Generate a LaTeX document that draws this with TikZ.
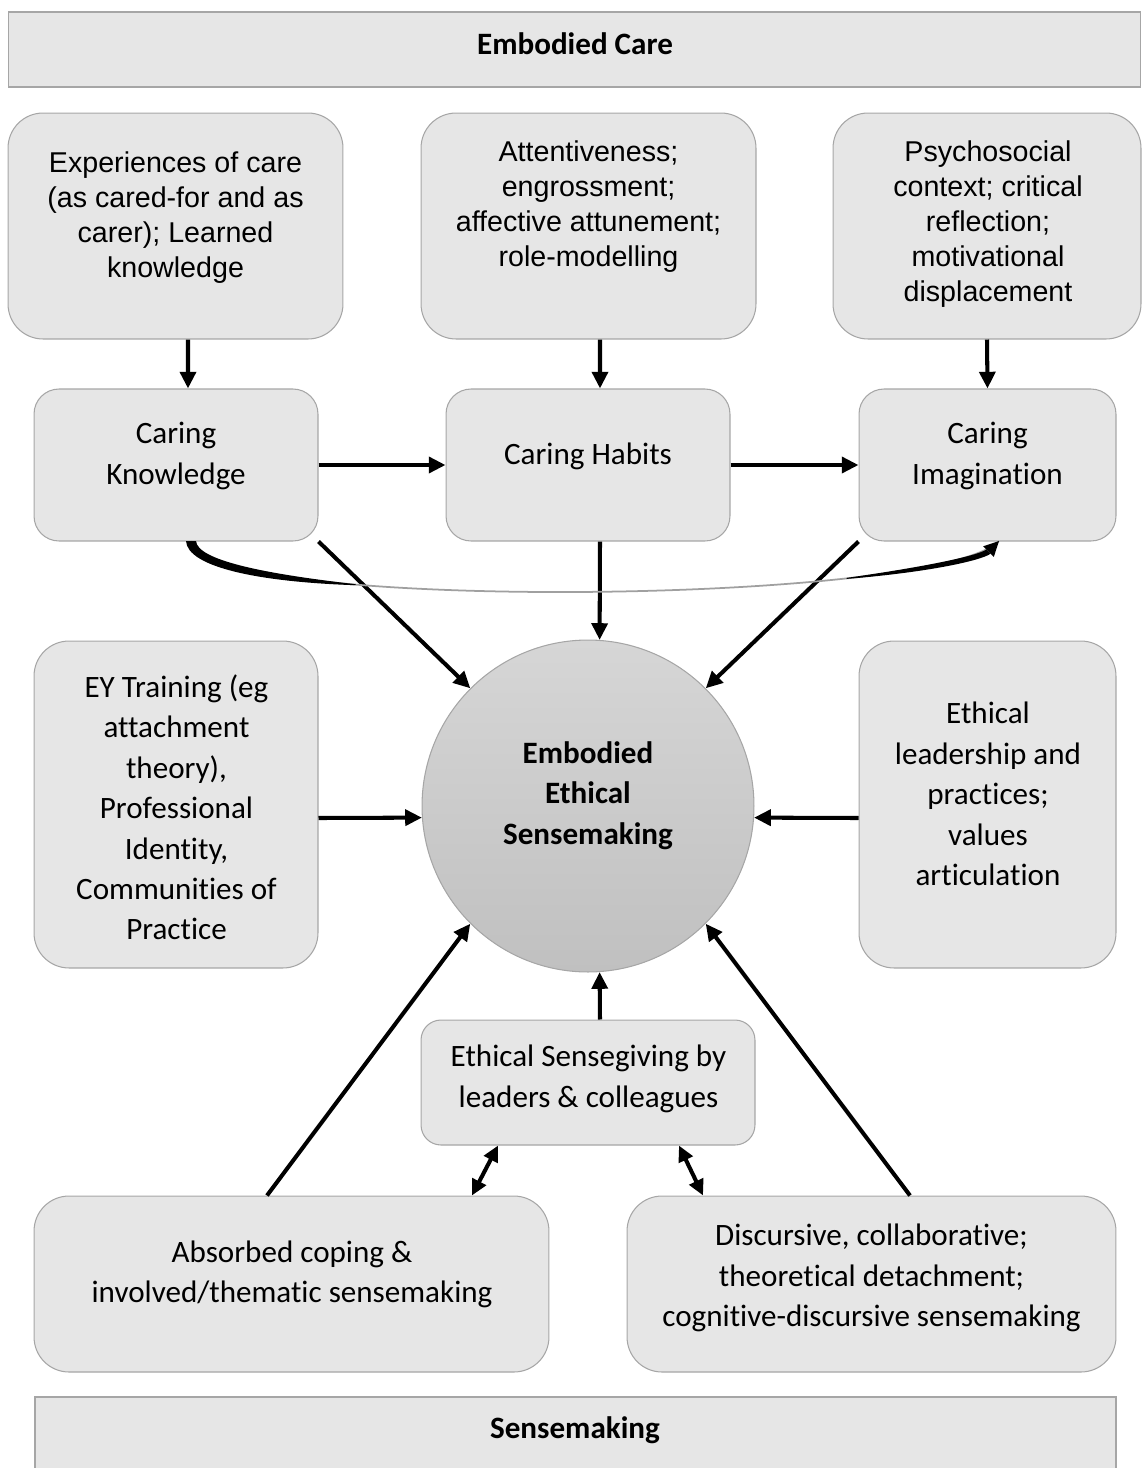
\documentclass[tikz,border=0pt]{standalone}
\usepackage{fontspec}
\setmainfont{Carlito}[Ligatures={NoCommon}]
\newfontfamily\arialf{Liberation Sans}
\usetikzlibrary{arrows.meta,shapes.geometric}
\definecolor{boxgray}{HTML}{E6E6E6}
\definecolor{edgegray}{HTML}{A6A6A6}
\definecolor{circtop}{HTML}{D6D6D6}
\definecolor{circbot}{HTML}{C0C0C0}
\definecolor{curvegray}{HTML}{A0A0A0}
\begin{document}
\begin{tikzpicture}[x=0.02cm,y=-0.02cm,
  rbox/.style={draw=edgegray, fill=boxgray, line width=0.6pt, inner sep=0pt},
  cal/.style={align=center, font=\fontsize{17.7}{23}\selectfont, inner sep=0pt},
  calb/.style={align=center, font=\bfseries\fontsize{17.7}{23}\selectfont, inner sep=0pt},
  ari/.style={align=center, font=\arialf\fontsize{16.3}{19.9}\selectfont, inner sep=0pt},
  arr/.style={-{Triangle[length=9.5pt,width=9pt]}, line width=2.3pt},
  dbl/.style={{Triangle[length=9pt,width=8.5pt]}-{Triangle[length=9pt,width=8.5pt]}, line width=2.3pt}]
\useasboundingbox (0,0) rectangle (1142,1468);

% top bar
\node[rbox, minimum width=22.66cm, minimum height=1.5cm] (topbar) at (574.5,49.5) {};
\node[calb] (toptxt) at (575,44) {Embodied Care};

% row 1
\node[rbox, rounded corners=0.7cm, minimum width=6.7cm, minimum height=4.52cm] (expA) at (175.5,226) {};
\node[ari] (expAt) at (175.5,218) {Experiences of care\\(as cared-for and as\\carer); Learned\\knowledge};
\node[rbox, rounded corners=0.7cm, minimum width=6.7cm, minimum height=4.52cm] (expB) at (588.5,226) {};
\node[ari] (expBt) at (588.5,207) {Attentiveness;\\engrossment;\\affective attunement;\\role-modelling};
\node[rbox, rounded corners=0.7cm, minimum width=6.16cm, minimum height=4.52cm] (expC) at (987,226) {};
\node[ari] (expCt) at (988,224.5) {Psychosocial\\context; critical\\reflection;\\motivational\\displacement};

% row 2
\node[rbox, rounded corners=0.5cm, minimum width=5.68cm, minimum height=3.04cm] (ck) at (176,465) {};
\node[cal] (ckt) at (176,456) {Caring\\Knowledge};
\node[rbox, rounded corners=0.5cm, minimum width=5.68cm, minimum height=3.04cm] (ch) at (588,465) {};
\node[cal] (cht) at (588,456) {Caring Habits};
\node[rbox, rounded corners=0.5cm, minimum width=5.14cm, minimum height=3.04cm] (ci) at (987.5,465) {};
\node[cal] (cit) at (987.5,456) {Caring\\Imagination};

% middle row
\node[rbox, rounded corners=0.7cm, minimum width=5.68cm, minimum height=6.54cm] (ey) at (176,804.5) {};
\node[cal] (eyt) at (176.5,807.5) {EY Training (eg\\attachment\\theory),\\Professional\\Identity,\\Communities of\\Practice};
\node[rbox, rounded corners=0.7cm, minimum width=5.14cm, minimum height=6.54cm] (el) at (987.5,804.5) {};
\node[cal] (elt) at (988,794) {Ethical\\leadership and\\practices;\\values\\articulation};

\node[circle, draw=edgegray, line width=0.6pt, top color=circtop, bottom color=circbot, minimum size=6.64cm, inner sep=0pt] (ees) at (588,806) {};
\node[calb] (eest) at (588,795.5) {Embodied\\Ethical\\Sensemaking};

% lower
\node[rbox, rounded corners=0.4cm, minimum width=6.68cm, minimum height=2.5cm] (esg) at (588,1082.5) {};
\node[cal] (esgt) at (588.5,1079) {Ethical Sensegiving by\\leaders \& colleagues};
\node[rbox, rounded corners=0.7cm, minimum width=10.3cm, minimum height=3.52cm] (acs) at (291.5,1284) {};
\node[cal] (acst) at (292,1274.5) {Absorbed coping \&\\involved/thematic sensemaking};
\node[rbox, rounded corners=0.7cm, minimum width=9.78cm, minimum height=3.52cm] (dcs) at (871.5,1284) {};
\node[cal] (dcst) at (871.5,1278) {Discursive, collaborative;\\theoretical detachment;\\cognitive-discursive sensemaking};

% bottom bar
\fill[boxgray] (35,1397) rectangle (1116,1468);
\draw[edgegray, line width=0.6pt] (35,1468) -- (35,1397) -- (1116,1397) -- (1116,1468);
\node[calb] (bottxt) at (575,1430) {Sensemaking};

% arrows
\draw[arr] ([xshift=0.25cm]expA.south) -- ([xshift=0.24cm]ck.north);
\draw[arr] ([xshift=0.23cm]expB.south) -- ([xshift=0.24cm]ch.north);
\draw[arr] (expC.south) -- (ci.north);
\draw[arr] (ck.east) -- (ch.west);
\draw[arr] (ch.east) -- (ci.west);
\draw[arr] (ck.south east) -- (ees.135);
\draw[arr] ([xshift=0.24cm]ch.south) -- (ees.86);
\draw[arr] (ci.south west) -- (ees.45);
\draw[arr] ([yshift=-0.27cm]ey.east) -- (ees.184);
\draw[arr] ([yshift=-0.27cm]el.west) -- (ees.356);
\draw[arr] ([xshift=-0.49cm]acs.north) -- (ees.225);
\draw[arr] ([xshift=0.24cm]esg.north) -- (ees.274);
\draw[arr] ([xshift=0.77cm]dcs.north) -- (ees.315);
\draw[dbl] ([xshift=-1.8cm]esg.south) -- ([xshift=3.61cm]acs.north);
\draw[dbl] ([xshift=1.82cm]esg.south) -- ([xshift=-3.37cm]dcs.north);

% curved arrow from Caring Knowledge to Caring Imagination
\coordinate (cvs) at (191,541);
\coordinate (cve) at (999,541);
\draw[curvegray, line width=1pt] (cvs) .. controls (196,612) and (935,606) .. (cve);
\fill[black] (186,541) .. controls (187.5,567) and (258,582) .. (355.7,585.2)
  -- (355.7,584.2) .. controls (262,573.5) and (197.5,560) .. (196,541) -- cycle;
\fill[black] (846.5,578.9) .. controls (926,572.5) and (980,561) .. (990.6,553.7)
  -- (986.4,549.5) .. controls (977,556) and (923.5,567) .. (846.5,577.9) -- cycle;
\fill[black] (cve) -- (993.8,556.9) -- (983.2,546.3) -- cycle;
\end{tikzpicture}
\end{document}
